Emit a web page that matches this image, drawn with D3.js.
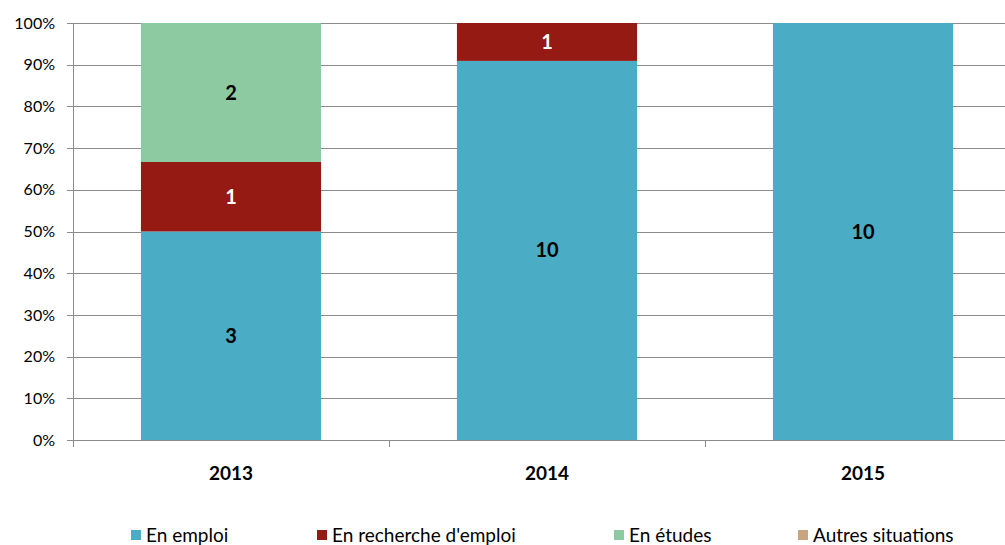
<!DOCTYPE html>
<html>
<head>
<meta charset="utf-8">
<script src="https://cdn.jsdelivr.net/npm/d3@7"></script>
<style>
  body { margin: 0; background: #fff; }
  svg { font-family: Lato, "Open Sans", sans-serif; }
</style>
</head>
<body>
<div id="chart"></div>
<script>
var years = ["2013", "2014", "2015"];
var seriesNames = ["En emploi", "En recherche d'emploi", "En études", "Autres situations"];
var enEmploi = [3, 10, 10];
var enRecherche = [1, 1, 0];
var enEtudes = [2, 0, 0];
var autres = [0, 0, 0];
var colors = ["#4BACC6", "#961A14", "#8DCAA2", "#C8A57E"];
var labelColors = ["#000", "#fff", "#000", "#000"];
var yTicks = [0, 0.1, 0.2, 0.3, 0.4, 0.5, 0.6, 0.7, 0.8, 0.9, 1];

var W = 1005, H = 545;
var mLeft = 73, mTop = 23, mBottom = 440;

var rows = years.map(function(y, i) {
  var vals = [enEmploi[i], enRecherche[i], enEtudes[i], autres[i]];
  var tot = d3.sum(vals);
  var r = { year: y };
  seriesNames.forEach(function(s, j) { r[s] = vals[j] / tot; r["raw" + j] = vals[j]; });
  return r;
});

var stack = d3.stack().keys(seriesNames);
var stacked = stack(rows);

var svg = d3.select("#chart").append("svg")
  .attr("width", W).attr("height", H);

var x = d3.scaleBand().domain(years).range([mLeft, 1021]).paddingInner(0.43).paddingOuter(0.215);
var y = d3.scaleLinear().domain([0, 1]).range([mBottom, mTop]);

// gridlines
svg.append("g").selectAll("line").data(yTicks).enter().append("line")
  .attr("x1", mLeft - 6).attr("x2", W)
  .attr("y1", function(d) { return Math.round(y(d)) + 0.5; })
  .attr("y2", function(d) { return Math.round(y(d)) + 0.5; })
  .attr("stroke", "#8c8c8c").attr("stroke-width", 1);

// y axis labels
svg.append("g").selectAll("text").data(yTicks).enter().append("text")
  .attr("x", 55).attr("y", function(d) { return y(d); })
  .attr("dy", "0.35em").attr("text-anchor", "end")
  .attr("font-size", 16).attr("fill", "#000")
  .text(function(d) { return d3.format(".0%")(d); });

// bars
var g = svg.append("g").selectAll("g").data(stacked).enter().append("g")
  .attr("fill", function(d, i) { return colors[i]; });
g.selectAll("rect").data(function(d) { return d; }).enter().append("rect")
  .attr("x", function(d) { return x(d.data.year); })
  .attr("width", x.bandwidth())
  .attr("y", function(d) { return y(d[1]); })
  .attr("height", function(d) { return y(d[0]) - y(d[1]); });

// value labels
stacked.forEach(function(s, i) {
  svg.append("g").selectAll("text").data(s.filter(function(d) { return d[1] - d[0] > 0; }))
    .enter().append("text")
    .attr("x", function(d) { return x(d.data.year) + x.bandwidth() / 2; })
    .attr("y", function(d) { return (y(d[0]) + y(d[1])) / 2; })
    .attr("dy", "0.35em").attr("text-anchor", "middle")
    .attr("font-size", 20).attr("font-weight", "bold")
    .attr("fill", labelColors[i])
    .text(function(d) { return d.data["raw" + i]; });
});

// axes lines
svg.append("line").attr("x1", mLeft + 0.5).attr("x2", mLeft + 0.5)
  .attr("y1", mTop).attr("y2", mBottom + 7).attr("stroke", "#8c8c8c");
svg.append("line").attr("x1", mLeft).attr("x2", W)
  .attr("y1", mBottom + 0.5).attr("y2", mBottom + 0.5).attr("stroke", "#8c8c8c");
svg.append("g").selectAll("line").data(years.slice(1)).enter().append("line")
  .attr("x1", function(d) { return Math.round(x(d) - x.step() * x.paddingInner() / 2) + 0.5; })
  .attr("x2", function(d) { return Math.round(x(d) - x.step() * x.paddingInner() / 2) + 0.5; })
  .attr("y1", mBottom).attr("y2", mBottom + 7).attr("stroke", "#8c8c8c");

// x labels
svg.append("g").selectAll("text").data(years).enter().append("text")
  .attr("x", function(d) { return x(d) + x.bandwidth() / 2; })
  .attr("y", 473).attr("dy", "0.35em").attr("text-anchor", "middle")
  .attr("font-size", 19).attr("font-weight", "bold")
  .text(function(d) { return d; });

// legend
var legX = [131, 317, 614, 798];
var leg = svg.append("g").selectAll("g").data(seriesNames).enter().append("g")
  .attr("transform", function(d, i) { return "translate(" + legX[i] + ",530)"; });
leg.append("rect").attr("width", 10).attr("height", 10)
  .attr("fill", function(d, i) { return colors[i]; });
leg.append("text").attr("x", 15).attr("y", 5).attr("dy", "0.35em")
  .attr("font-size", 19).text(function(d) { return d; });
</script>
</body>
</html>
